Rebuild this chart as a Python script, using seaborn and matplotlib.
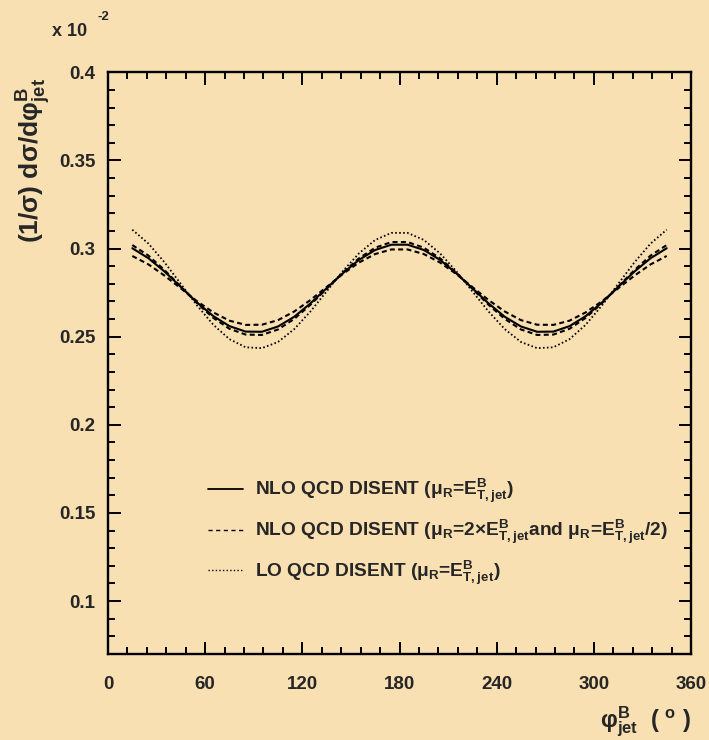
import matplotlib
matplotlib.use("Agg")
import matplotlib.pyplot as plt
import seaborn as sns
import pandas as pd
from matplotlib.lines import Line2D
from matplotlib.ticker import MultipleLocator, FixedLocator, FixedFormatter

# ---------------- data (values in units of 10^-2) ----------------
phi = [15, 25, 35, 45, 55, 65, 75, 85, 95, 105, 115, 125, 135, 145, 155, 165, 175,
       185, 195, 205, 215, 225, 235, 245, 255, 265, 275, 285, 295, 305, 315, 325, 335, 345]

nlo = [0.3002, 0.2945, 0.2869, 0.2782, 0.2694, 0.2617, 0.2560, 0.2529, 0.2528, 0.2558,
       0.2613, 0.2689, 0.2775, 0.2860, 0.2936, 0.2992, 0.3022,
       0.3022, 0.2992, 0.2936, 0.2860, 0.2775, 0.2689, 0.2613, 0.2558, 0.2528, 0.2529,
       0.2560, 0.2617, 0.2694, 0.2782, 0.2869, 0.2945, 0.3002]

nlo_scale_a = [0.2958, 0.2910, 0.2846, 0.2774, 0.2701, 0.2638, 0.2591, 0.2567, 0.2568, 0.2594,
               0.2643, 0.2708, 0.2782, 0.2856, 0.2921, 0.2969, 0.2995,
               0.2995, 0.2969, 0.2921, 0.2856, 0.2782, 0.2708, 0.2643, 0.2594, 0.2568, 0.2567,
               0.2591, 0.2638, 0.2701, 0.2774, 0.2846, 0.2910, 0.2958]

nlo_scale_b = [0.3020, 0.2960, 0.2877, 0.2784, 0.2690, 0.2607, 0.2545, 0.2512, 0.2510, 0.2541,
               0.2601, 0.2681, 0.2772, 0.2864, 0.2945, 0.3005, 0.3037,
               0.3037, 0.3005, 0.2945, 0.2864, 0.2772, 0.2681, 0.2601, 0.2541, 0.2510, 0.2512,
               0.2545, 0.2607, 0.2690, 0.2784, 0.2877, 0.2960, 0.3020]

lo = [0.3107, 0.3028, 0.2921, 0.2799, 0.2677, 0.2568, 0.2486, 0.2440, 0.2435, 0.2470,
      0.2543, 0.2643, 0.2757, 0.2872, 0.2973, 0.3049, 0.3089,
      0.3089, 0.3049, 0.2973, 0.2872, 0.2757, 0.2643, 0.2543, 0.2470, 0.2435, 0.2440,
      0.2486, 0.2568, 0.2677, 0.2799, 0.2921, 0.3028, 0.3107]

x_ticks = [0, 60, 120, 180, 240, 300, 360]
y_ticks = [0.1, 0.15, 0.2, 0.25, 0.3, 0.35, 0.4]
y_ticklabels = ["0.1", "0.15", "0.2", "0.25", "0.3", "0.35", "0.4"]

legend_labels = [
    r"NLO QCD DISENT (μ$_{R}$=E$^{B}_{T,jet}$)",
    r"NLO QCD DISENT (μ$_{R}$=2×E$^{B}_{T,jet}$and μ$_{R}$=E$^{B}_{T,jet}$/2)",
    r"LO QCD DISENT (μ$_{R}$=E$^{B}_{T,jet}$)",
]

df = pd.DataFrame({"phi": phi, "nlo": nlo, "nlo_a": nlo_scale_a,
                   "nlo_b": nlo_scale_b, "lo": lo})

# ---------------- style ----------------
sns.set_style("ticks")
bg = "#f9e0b3"
plt.rcParams["font.family"] = ["Liberation Sans", "DejaVu Sans"]
plt.rcParams["font.weight"] = "bold"
plt.rcParams["mathtext.fontset"] = "custom"
plt.rcParams["mathtext.rm"] = "Liberation Sans:bold"
plt.rcParams["mathtext.bf"] = "Liberation Sans:bold"
plt.rcParams["mathtext.it"] = "Liberation Sans:bold"
plt.rcParams["mathtext.default"] = "bf"

fig = plt.figure(figsize=(7.09, 7.40), dpi=100, facecolor=bg)
ax = fig.add_axes([0.15233, 0.11622, 0.82228, 0.78608])
ax.set_facecolor(bg)

dash_style = (0, (2.4, 1.6))
dot_style = (0, (0.9, 1.3))

sns.lineplot(data=df, x="phi", y="nlo", ax=ax, color="black", linewidth=1.5,
             linestyle="-")
sns.lineplot(data=df, x="phi", y="nlo_a", ax=ax, color="black", linewidth=1.5,
             linestyle=dash_style)
sns.lineplot(data=df, x="phi", y="nlo_b", ax=ax, color="black", linewidth=1.5,
             linestyle=dash_style)
sns.lineplot(data=df, x="phi", y="lo", ax=ax, color="black", linewidth=1.3,
             linestyle=dot_style)

ax.set_xlim(0, 360)
ax.set_ylim(0.07, 0.4)
ax.xaxis.set_major_locator(FixedLocator(x_ticks))
ax.xaxis.set_minor_locator(MultipleLocator(12))
ax.yaxis.set_major_locator(FixedLocator(y_ticks))
ax.yaxis.set_major_formatter(FixedFormatter(y_ticklabels))
ax.yaxis.set_minor_locator(MultipleLocator(0.01))

for s in ax.spines.values():
    s.set_linewidth(1.7)
    s.set_color("black")
    s.set_visible(True)

ax.tick_params(which="both", direction="in", top=True, right=True, color="black")
ax.tick_params(which="major", length=9, width=1.4)
ax.tick_params(which="minor", length=4.8, width=1.4)
ax.tick_params(axis="x", which="major", pad=16, labelsize=13.5)
ax.tick_params(axis="y", which="major", pad=9, labelsize=13.5)
for lab in ax.get_xticklabels() + ax.get_yticklabels():
    lab.set_fontweight("bold")

ax.set_xlabel(r"φ$^{B}_{jet}$  ( $^{o}$ )", fontsize=17, fontweight="bold", loc="right")
ax.xaxis.set_label_coords(1.0, -0.087)
ax.set_ylabel(r"(1/σ) dσ/dφ$^{B}_{jet}$", fontsize=19, fontweight="bold", loc="top")
ax.yaxis.set_label_coords(-0.095, 0.99)

fig.text(52 / 709, 1 - 36 / 740, "x 10", fontsize=13, fontweight="bold",
         ha="left", va="baseline")
fig.text(97 / 709, 1 - 20 / 740, "-2", fontsize=9.5, fontweight="bold",
         ha="left", va="baseline")

handles = [
    Line2D([], [], color="black", linewidth=1.3, linestyle="-"),
    Line2D([], [], color="black", linewidth=1.0, linestyle=(0, (3, 2.5))),
    Line2D([], [], color="black", linewidth=1.0, linestyle=(0, (1, 1.6))),
]
leg = ax.legend(handles, legend_labels, loc="upper left",
                bbox_to_anchor=(208 / 709, 1 - 477 / 740),
                bbox_transform=fig.transFigure, frameon=False,
                prop={"family": ["Liberation Sans", "DejaVu Sans"],
                      "weight": "bold", "size": 13.8},
                handlelength=1.83, handletextpad=0.6,
                labelspacing=0.66, borderpad=0, borderaxespad=0)

fig.savefig("out.png", dpi=100, facecolor=bg)
